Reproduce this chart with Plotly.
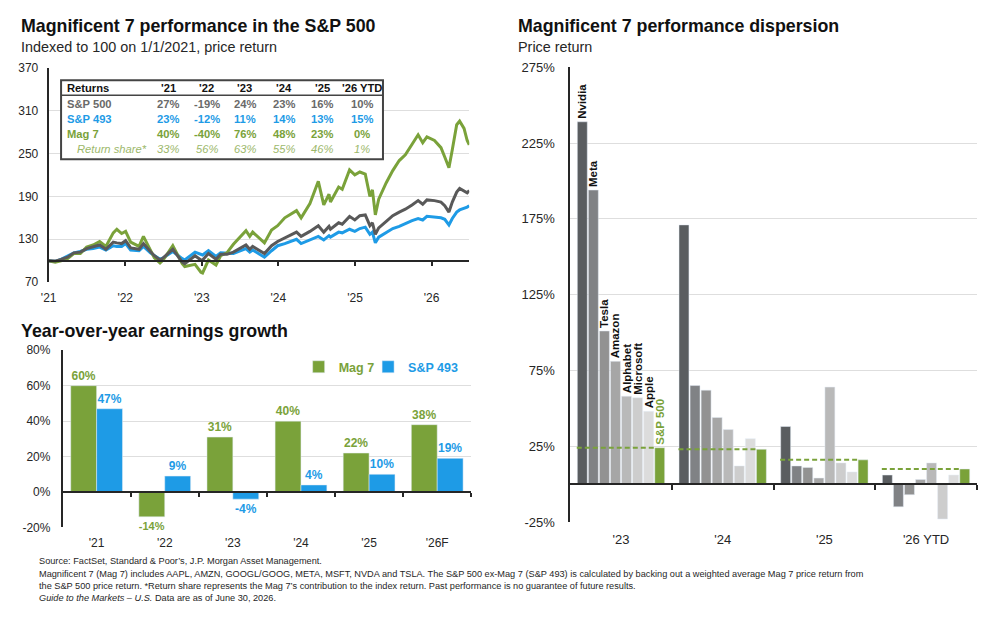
import plotly.graph_objects as go

# ---------------- DATA ----------------
# Top-left: indexed price levels (100 = 1/1/2021)
line_dates = [
    "2021-01-01", "2021-02-01", "2021-03-01", "2021-04-01", "2021-05-01", "2021-06-01",
    "2021-07-01", "2021-08-01", "2021-09-01", "2021-10-01", "2021-11-05", "2021-11-22",
    "2021-12-15", "2022-01-03", "2022-01-27", "2022-03-08", "2022-03-29", "2022-05-01",
    "2022-05-20", "2022-06-16", "2022-07-01", "2022-08-16", "2022-09-30", "2022-10-12",
    "2022-11-30", "2022-12-28", "2023-01-05", "2023-02-02", "2023-03-10", "2023-04-01",
    "2023-05-01", "2023-06-01", "2023-07-31", "2023-08-18", "2023-09-01", "2023-10-27",
    "2023-11-30", "2023-12-29", "2024-02-01", "2024-03-28", "2024-04-19", "2024-05-31",
    "2024-07-10", "2024-08-05", "2024-08-30", "2024-09-06", "2024-10-15", "2024-11-01",
    "2024-12-06", "2024-12-31", "2025-01-24", "2025-02-19", "2025-03-13", "2025-03-25",
    "2025-04-08", "2025-04-24", "2025-05-30", "2025-06-30", "2025-07-31", "2025-08-29",
    "2025-09-30", "2025-10-29", "2025-11-20", "2025-12-10", "2026-01-15", "2026-02-15",
    "2026-03-05", "2026-03-25", "2026-04-10", "2026-05-01", "2026-05-15", "2026-06-05",
    "2026-06-20", "2026-06-30",
]
sp500_idx = [
    100, 99.5, 102, 105, 111, 112, 117, 119, 122, 116, 126, 125,
    124, 128, 118, 116, 124, 113, 107, 101, 104, 116, 98, 96,
    107, 101, 101, 110, 102, 109, 109, 112, 122, 116, 120, 110,
    121, 127, 132, 140, 134, 141, 149, 140, 148, 144, 153, 151,
    162, 157, 163, 164, 149, 153, 137, 146, 155, 163, 168, 172,
    178, 184, 179, 185, 184, 182, 177, 168, 182, 196, 201, 197,
    195, 198,
]
sp493_idx = [
    100, 99, 102, 106, 111, 113, 116, 117, 119, 115, 121, 120,
    120, 124, 115, 114, 120, 111, 107, 102, 104, 113, 103, 101,
    112, 108, 108, 114, 106, 111, 110, 110, 117, 112, 115, 105,
    114, 121, 124, 130, 124, 129, 134, 129, 135, 133, 140, 139,
    144, 141, 145, 147, 137, 140, 125, 133, 139, 145, 148, 152,
    156, 159, 157, 162, 161, 160, 158, 150, 159, 168, 171, 173,
    175, 177,
]
mag7_idx = [
    100, 98, 100, 103, 110, 110, 119, 122, 127, 120, 139, 144,
    138, 141, 126, 120, 134, 116, 104, 97, 101, 121, 96, 92,
    95, 84, 83, 101, 94, 107, 111, 123, 142, 134, 140, 125,
    143, 149, 160, 170, 160, 180, 211, 178, 193, 182, 203, 200,
    227, 220, 224, 221, 190, 199, 164, 186, 209, 226, 240, 248,
    262, 276, 265, 273, 268, 258, 245, 230, 255, 290, 295, 285,
    268, 262,
]
idx_ticks = [70, 130, 190, 250, 310, 370]
year_ticks = ["2021-01-01", "2022-01-01", "2023-01-01", "2024-01-01", "2025-01-01", "2026-01-01"]
year_labels = ["'21", "'22", "'23", "'24", "'25", "'26"]

# Returns table
table_years = ["'21", "'22", "'23", "'24", "'25", "'26 YTD"]
tbl_sp500 = ["27%", "-19%", "24%", "23%", "16%", "10%"]
tbl_sp493 = ["23%", "-12%", "11%", "14%", "13%", "15%"]
tbl_mag7 = ["40%", "-40%", "76%", "48%", "23%", "0%"]
tbl_share = ["33%", "56%", "63%", "55%", "46%", "1%"]

# Bottom-left: year-over-year earnings growth (%)
eg_years = ["'21", "'22", "'23", "'24", "'25", "'26F"]
eg_mag7 = [60, -14, 31, 40, 22, 38]
eg_sp493 = [47, 9, -4, 4, 10, 19]
eg_ticks = [-20, 0, 20, 40, 60, 80]

# Right: performance dispersion (price return, %)
disp_years = ["'23", "'24", "'25", "'26 YTD"]
disp_names = ["Nvidia", "Meta", "Tesla", "Amazon", "Alphabet", "Microsoft", "Apple", "S&P 500"]
ret_nvidia = [239, 171, 38, 6]
ret_meta = [194, 65, 12, -15]
ret_tesla = [101, 62, 11, -7]
ret_amazon = [81, 44, 4, 3]
ret_alphabet = [58, 36, 64, 14]
ret_microsoft = [57, 12, 14, -23]
ret_apple = [48, 30, 8, 6]
ret_sp500 = [24, 23, 16, 10]
disp_ticks = [-25, 25, 75, 125, 175, 225, 275]

# ---------------- STYLE ----------------
FONT = "Liberation Sans, Arial, sans-serif"
GREEN = "#7aa23a"
GREEN_LIGHT = "#9cb86a"
BLUE = "#1e9be6"
GRAY = "#595959"
GRID = "#dedede"
AXIS = "#262626"
TXT = "#262626"
W, H = 1000, 624


def px(x):
    return x / W


def py(y):
    return 1 - y / H


def pct(v):
    return f"{v}%"


fig = go.Figure()

# ---------- Top-left line chart ----------
for name, vals, col in [("S&P 493", sp493_idx, BLUE), ("Mag 7", mag7_idx, GREEN), ("S&P 500", sp500_idx, GRAY)]:
    fig.add_trace(go.Scatter(x=line_dates, y=vals, mode="lines", name=name,
                             line=dict(color=col, width=3), showlegend=False,
                             xaxis="x", yaxis="y", hoverinfo="skip"))

# ---------- Bottom-left bar chart ----------
fig.add_trace(go.Bar(x=eg_years, y=eg_mag7, name=f"<b><span style='color:{GREEN}'>Mag 7</span></b>",
                     marker_color=GREEN, text=[pct(v) for v in eg_mag7], textposition="outside",
                     textfont=dict(color=GREEN, size=12, family=FONT), texttemplate="<b>%{text}</b>",
                     cliponaxis=False, xaxis="x3", yaxis="y3", showlegend=True, legend="legend"))
fig.add_trace(go.Bar(x=eg_years, y=eg_sp493, name=f"<b><span style='color:{BLUE}'>S&P 493</span></b>",
                     marker_color=BLUE, text=[pct(v) for v in eg_sp493], textposition="outside",
                     textfont=dict(color=BLUE, size=12, family=FONT), texttemplate="<b>%{text}</b>",
                     cliponaxis=False, xaxis="x3", yaxis="y3", showlegend=True, legend="legend2"))

# ---------- Right dispersion chart ----------
disp_series = [ret_nvidia, ret_meta, ret_tesla, ret_amazon, ret_alphabet, ret_microsoft, ret_apple, ret_sp500]
disp_colors = ["#5a5d60", "#808285", "#929292", "#a6a6a6", "#b9b9b9", "#cdcdcd", "#dcdcdc", GREEN]
n = len(disp_names)
span = 0.87
step = span / n
bw = step * 0.9
xg = list(range(len(disp_years)))
for k, (nm, vals, col) in enumerate(zip(disp_names, disp_series, disp_colors)):
    lbl_col = GREEN if nm == "S&P 500" else "#111111"
    fig.add_trace(go.Bar(x=xg, y=vals, name=nm, marker_color=col, width=bw,
                         offset=-span / 2 + k * step + (step - bw) / 2,
                         text=[f"<b>{nm}</b>"] + [""] * (len(xg) - 1),
                         textposition="outside", textangle=-90, constraintext="none",
                         textfont=dict(color=lbl_col, size=11.5, family=FONT),
                         cliponaxis=False, xaxis="x2", yaxis="y2", showlegend=False))

dx, dy = [], []
for g, v in zip(xg, ret_sp500):
    dx += [g - span / 2, g - span / 2 + (n - 1) * step, None]
    dy += [v, v, None]
fig.add_trace(go.Scatter(x=dx, y=dy, mode="lines", line=dict(color=GREEN, width=2, dash="5px,3px"),
                         xaxis="x2", yaxis="y2", showlegend=False, hoverinfo="skip"))

# dummy traces for the overlay "zero line" axes
for xa, ya in [("x4", "y"), ("x5", "y2"), ("x6", "y3")]:
    fig.add_trace(go.Scatter(x=[None], y=[None], xaxis=xa, yaxis=ya, showlegend=False, hoverinfo="skip"))

# ---------- Domains ----------
d1x = [px(41), px(465)]
d1y = [py(282), py(62)]
d3x = [px(55), px(467)]
d3y = [py(533.3), py(351.7)]
d2x = [px(566.7), px(976.7)]
d2y = [py(527.7), py(61.7)]

r1 = [70, 370]
r3 = [-20, 80]
r2 = [-25, 275]


def zero_pos(dom, rng, v):
    return dom[0] + (v - rng[0]) / (rng[1] - rng[0]) * (dom[1] - dom[0])


tickfont = dict(family=FONT, size=12, color=TXT)

fig.update_layout(
    width=W, height=H,
    margin=dict(l=0, r=0, t=0, b=0),
    paper_bgcolor="white", plot_bgcolor="white",
    font=dict(family=FONT, color=TXT),
    barmode="group", bargap=0.24, bargroupgap=0,
    xaxis=dict(domain=d1x, anchor="y", type="date", range=["2021-01-01", "2026-06-30"],
               tickvals=year_ticks, ticktext=year_labels, ticklabelstandoff=7,
               showgrid=False, showline=False, zeroline=False, ticks="", tickfont=tickfont),
    yaxis=dict(domain=d1y, anchor="x", range=r1, tickvals=idx_ticks, ticktext=[str(v) for v in idx_ticks],
               showgrid=True, gridcolor=GRID, gridwidth=1, zeroline=False, ticklabelstandoff=6,
               showline=True, linecolor=AXIS, linewidth=2, ticks="", tickfont=tickfont),
    xaxis4=dict(overlaying="x", anchor="free", position=zero_pos(d1y, r1, 100), type="date",
                range=["2021-01-01", "2026-06-30"], tickvals=year_ticks[1:],
                ticks="outside", ticklen=4, tickcolor=AXIS, tickwidth=1.5, showticklabels=False,
                showline=True, linecolor=AXIS, linewidth=2, showgrid=False, zeroline=False),

    xaxis3=dict(domain=d3x, anchor="y3", type="category", range=[-0.5, 5.5], ticklabelstandoff=7,
                showgrid=False, showline=False, zeroline=False, ticks="", tickfont=tickfont),
    yaxis3=dict(domain=d3y, anchor="x3", range=r3, tickvals=eg_ticks, ticktext=[pct(v) for v in eg_ticks],
                showgrid=True, gridcolor=GRID, zeroline=False, ticklabelstandoff=8,
                showline=True, linecolor=AXIS, linewidth=1.5, ticks="", tickfont=tickfont),
    xaxis6=dict(overlaying="x3", anchor="free", position=zero_pos(d3y, r3, 0), range=[-0.5, 5.5],
                tickvals=[0.5, 1.5, 2.5, 3.5, 4.5, 5.5], ticks="outside", ticklen=4, tickcolor=AXIS,
                tickwidth=1.5, showticklabels=False, showline=True, linecolor=AXIS, linewidth=1.5,
                showgrid=False, zeroline=False),

    xaxis2=dict(domain=d2x, anchor="y2", range=[-0.5, 3.5], tickvals=xg, ticktext=disp_years,
                showgrid=False, showline=False, zeroline=False, ticks="", ticklabelstandoff=8,
                tickfont=dict(family=FONT, size=13, color=TXT)),
    yaxis2=dict(domain=d2y, anchor="x2", range=r2, tickvals=disp_ticks, ticktext=[pct(v) for v in disp_ticks],
                showgrid=True, gridcolor=GRID, zeroline=False, ticklabelstandoff=11,
                showline=True, linecolor=AXIS, linewidth=1.5, ticks="",
                tickfont=dict(family=FONT, size=13, color=TXT)),
    xaxis5=dict(overlaying="x2", anchor="free", position=zero_pos(d2y, r2, 0), range=[-0.5, 3.5],
                tickvals=[0.5, 1.5, 2.5, 3.5], ticks="outside", ticklen=5, tickcolor=AXIS, tickwidth=1.5,
                showticklabels=False, showline=True, linecolor=AXIS, linewidth=1.5,
                showgrid=False, zeroline=False),

    legend=dict(orientation="h", x=px(293), y=py(369), xanchor="left", yanchor="middle",
                font=dict(family=FONT, size=12.5), bgcolor="rgba(0,0,0,0)", itemwidth=30),
    legend2=dict(orientation="h", x=px(363), y=py(369), xanchor="left", yanchor="middle",
                 font=dict(family=FONT, size=12.5), bgcolor="rgba(0,0,0,0)", itemwidth=30),
)

# ---------- Titles ----------
ann = []


def text(x, y, s, size, bold=False, color=TXT, xanchor="left", italic=False, family=FONT):
    if bold:
        s = f"<b>{s}</b>"
    if italic:
        s = f"<i>{s}</i>"
    ann.append(dict(x=px(x), y=py(y), xref="paper", yref="paper", text=s, showarrow=False,
                    xanchor=xanchor, yanchor="middle", font=dict(family=family, size=size, color=color)))


text(11, 19.5, "Magnificent 7 performance in the S&P 500", 17.8, bold=True, color="#111111")
text(11, 41, "Indexed to 100 on 1/1/2021, price return", 14.4)
text(512, 19.5, "Magnificent 7 performance dispersion", 17.8, bold=True, color="#111111")
text(512, 41, "Price return", 14.4)
text(11, 331.5, "Year-over-year earnings growth", 17.8, bold=True, color="#111111")

# ---------- Returns table ----------
col_x = [161.7, 200.5, 238.5, 278, 317, 356.5]
row_y = [82.7, 99, 114.5, 130, 145.5]
tbl_rows = [
    ("Returns", table_years, "#111111", True, False, 57),
    ("S&P 500", tbl_sp500, "#6a6a6a", True, False, 57),
    ("S&P 493", tbl_sp493, BLUE, True, False, 57),
    ("Mag 7", tbl_mag7, GREEN, True, False, 57),
    ("Return share*", tbl_share, GREEN_LIGHT, False, True, 68),
]
for (lbl, vals, col, bold, ital, lx), yy in zip(tbl_rows, row_y):
    text(lx, yy, lbl, 11.2, bold=bold, italic=ital, color=col)
    for cx, v in zip(col_x, vals):
        text(cx, yy, v, 11.2, bold=bold, italic=ital, color=col, xanchor="center")

shapes = [
    dict(type="rect", xref="paper", yref="paper", x0=px(53.5), x1=px(378), y0=py(156), y1=py(75),
         line=dict(color="#444444", width=2), fillcolor="rgba(255,255,255,1)", layer="above"),
    dict(type="line", xref="paper", yref="paper", x0=px(53.5), x1=px(378), y0=py(90.5), y1=py(90.5),
         line=dict(color="#444444", width=1.5)),
]

# ---------- Footer ----------
foot = FONT
fs = 9.2
text(29, 568, "Source: FactSet, Standard & Poor\u2019s, J.P. Morgan Asset Management.", fs, family=foot)
text(29, 581, "Magnificent 7 (Mag 7) includes AAPL, AMZN, GOOGL/GOOG, META, MSFT, NVDA and TSLA. The S&P 500 ex-Mag 7 (S&P 493) is calculated by backing out a weighted average Mag 7 price return from", fs, family=foot)
text(29, 593.5, "the S&P 500 price return. *Return share represents the Mag 7\u2019s contribution to the index return. Past performance is no guarantee of future results.", fs, family=foot)
text(29, 606, "<i>Guide to the Markets \u2013 U.S.</i> Data are as of June 30, 2026.", fs, family=foot)

fig.update_layout(annotations=ann, shapes=shapes)

fig.write_html("out.html")
